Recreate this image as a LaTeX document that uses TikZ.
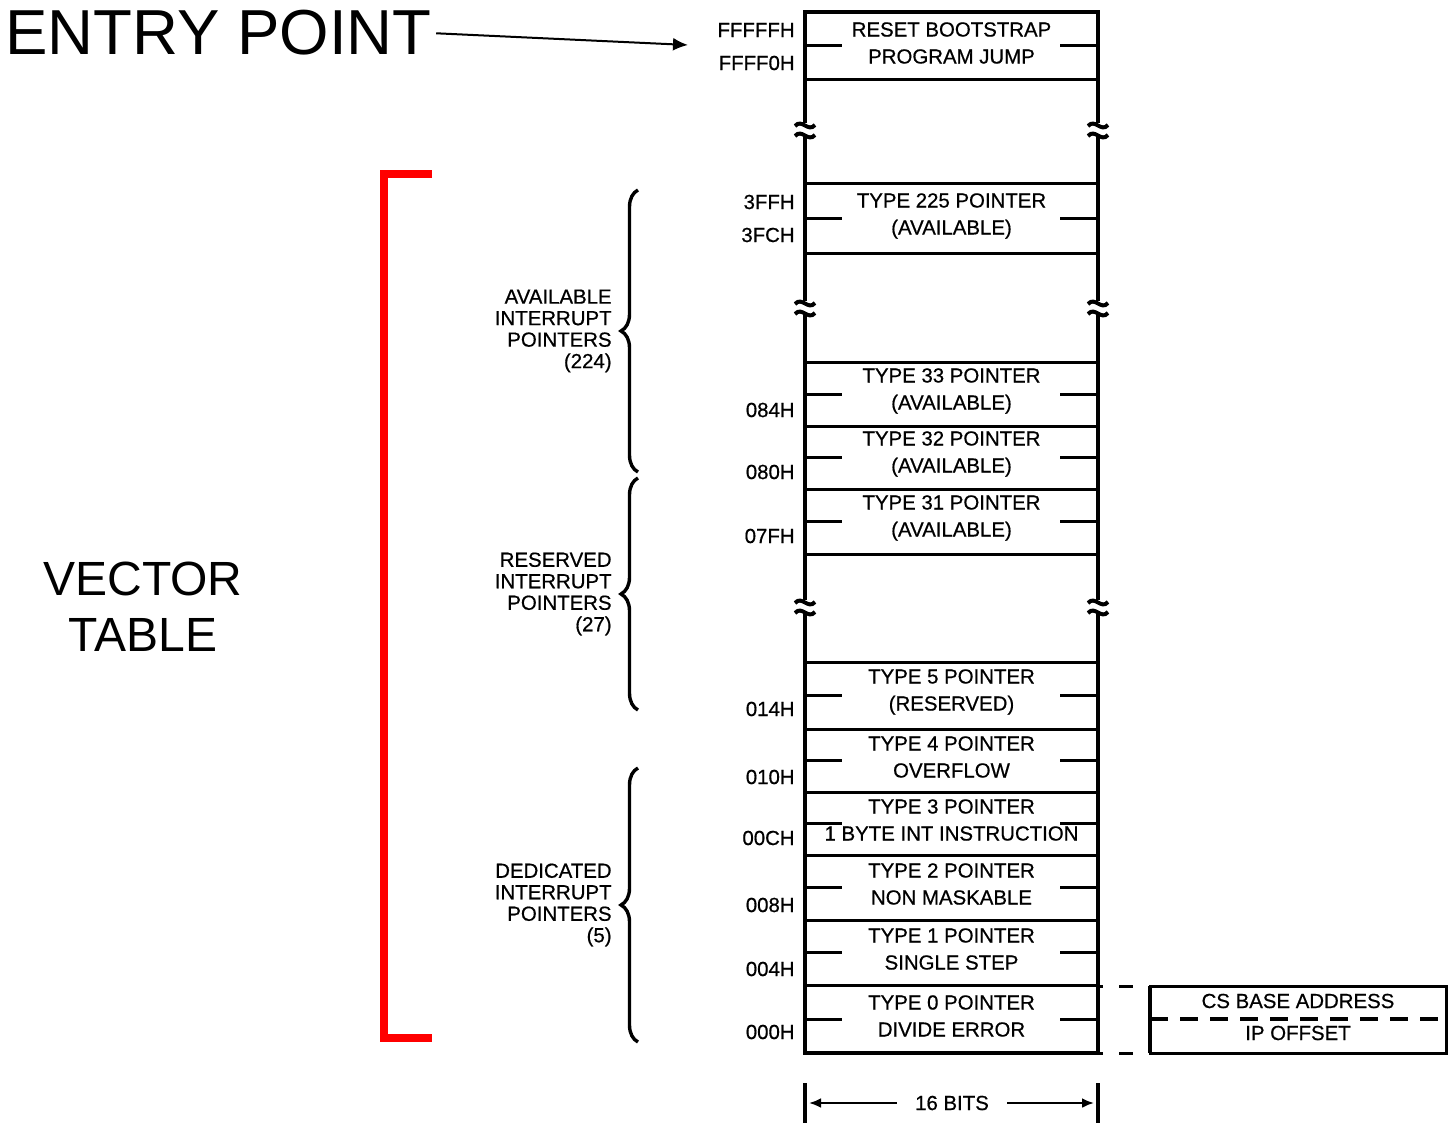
\documentclass[tikz,border=0pt]{standalone}
\usepackage{fontspec}
\setmainfont{Liberation Sans}
\newfontfamily\memfont[FakeBold=0.6]{Liberation Sans}
\usetikzlibrary{arrows.meta,decorations.pathreplacing}

% cut in a wall of the memory column
\newcommand{\wallgap}[2]{%
  \fill[white] ({#1-5},{#2-7}) rectangle ({#1+5},{#2+7});
  \draw[line width=2pt] ({#1-10},{#2-4}) .. controls ({#1-3},{#2-12}) and ({#1+3},{#2+3}) .. ({#1+10},{#2-5});
  \draw[line width=2pt] ({#1-10},{#2+6}) .. controls ({#1-3},{#2-2}) and ({#1+3},{#2+13}) .. ({#1+10},{#2+5});}

\begin{document}
\begin{tikzpicture}[x=0.5pt,y=-0.5pt,
    wall/.style={line width=2pt},
    rule/.style={line width=1.5pt},
    celltext/.style={font=\memfont\fontsize{10.2}{13.5}\selectfont, align=center},
    addr/.style={font=\memfont\fontsize{10.2}{12}\selectfont, anchor=east, inner sep=1pt},
    grouplabel/.style={font=\memfont\fontsize{10.2}{10.75}\selectfont, align=right, anchor=east, inner sep=0pt},
    grpbrace/.style={line width=1.7pt, decorate, decoration={brace, amplitude=8.5pt}}]

  \useasboundingbox (0,0) rectangle (1450,1123);

  % memory column
  \draw[wall] (805,12) -- (805,1053);
  \draw[wall] (1098,12) -- (1098,1053);
  \foreach \y in {80,184,254,362,426,489,554,662,729,792,855,920,985}
    \draw[rule] (805,\y) -- (1098,\y);
  \draw[wall] (803,12) -- (1100,12);
  \draw[wall] (803,1053) -- (1100,1053);
  \foreach \y in {46,219,394,457,521,695,760,823,887,952,1019} {
    \draw[rule] (805,\y) -- (842,\y);
    \draw[rule] (1060,\y) -- (1098,\y);
  }
  \foreach \y in {130,308,607} {
    \wallgap{805}{\y}
    \wallgap{1098}{\y}
  }

  % cell contents
  \foreach \m/\txt in {46/{RESET BOOTSTRAP\\PROGRAM JUMP},
      219/{TYPE 225 POINTER\\(AVAILABLE)},
      394/{TYPE 33 POINTER\\(AVAILABLE)},
      457/{TYPE 32 POINTER\\(AVAILABLE)},
      521/{TYPE 31 POINTER\\(AVAILABLE)},
      695/{TYPE 5 POINTER\\(RESERVED)},
      760/{TYPE 4 POINTER\\OVERFLOW},
      823/{TYPE 3 POINTER\\1 BYTE INT INSTRUCTION},
      887/{TYPE 2 POINTER\\NON MASKABLE},
      952/{TYPE 1 POINTER\\SINGLE STEP},
      1019/{TYPE 0 POINTER\\DIVIDE ERROR}}
    \node[celltext] (cell\m) at (951.5,\m-3) {\txt};

  % addresses
  \foreach \y/\a in {30/FFFFFH,63/FFFF0H,202/3FFH,235/3FCH,410/084H,472/080H,
      536/07FH,709/014H,777/010H,838/00CH,905/008H,969/004H,1032/000H}
    \node[addr] (addr\a) at (797,\y) {\a};

  % groups
  \draw[grpbrace] (638,472) -- (638,190);
  \draw[grpbrace] (638,710) -- (638,478);
  \draw[grpbrace] (638,1042) -- (638,768);
  \node[grouplabel] (avail) at (612,331) {AVAILABLE\\INTERRUPT\\POINTERS\\(224)};
  \node[grouplabel] (resvd) at (612,594) {RESERVED\\INTERRUPT\\POINTERS\\(27)};
  \node[grouplabel] (dedic) at (612,905) {DEDICATED\\INTERRUPT\\POINTERS\\(5)};

  % vector table bracket
  \draw[red, line width=4pt] (432,174) -- (384,174) -- (384,1038) -- (432,1038);
  \node[font=\fontsize{24}{28}\selectfont, align=center] (vtable) at (143,607) {VECTOR\\TABLE};

  % entry point
  \node[font=\fontsize{31.8}{32}\selectfont, anchor=base west, inner sep=0pt] (entry) at (5,55) {ENTRY POINT};
  \coordinate (entrytip) at (688,45);
  \draw[line width=1pt, -{Latex[length=7.5pt,width=6.5pt]}, shorten <=2pt] (entry.east) -- (entrytip);

  % segment:offset word
  \draw[rule] (1150,986) rectangle (1446,1053);
  \draw[wall] (1150,986) -- (1150,1053);
  \draw[line width=2pt, dash pattern=on 9pt off 6pt] (1150,1019) -- (1446,1019);
  \draw[rule, dash pattern=on 1.5pt off 8pt on 7pt off 10pt] (1100,986) -- (1150,986);
  \draw[rule, dash pattern=on 1.5pt off 8pt on 7pt off 10pt] (1100,1053) -- (1150,1053);
  \node[celltext] (csbase) at (1298,1001) {CS BASE ADDRESS};
  \node[celltext] (ipoff) at (1298,1033) {IP OFFSET};

  % word width
  \draw[wall] (805,1083) -- (805,1123);
  \draw[wall] (1098,1083) -- (1098,1123);
  \coordinate (bitsl) at (809,1103);
  \coordinate (bitsr) at (1094,1103);
  \node[celltext, inner xsep=9pt] (bits) at (952,1103) {16 BITS};
  \draw[line width=1.2pt, -{Latex[length=6pt,width=5pt]}] (bits.west) -- (bitsl);
  \draw[line width=1.2pt, -{Latex[length=6pt,width=5pt]}] (bits.east) -- (bitsr);
\end{tikzpicture}
\end{document}
